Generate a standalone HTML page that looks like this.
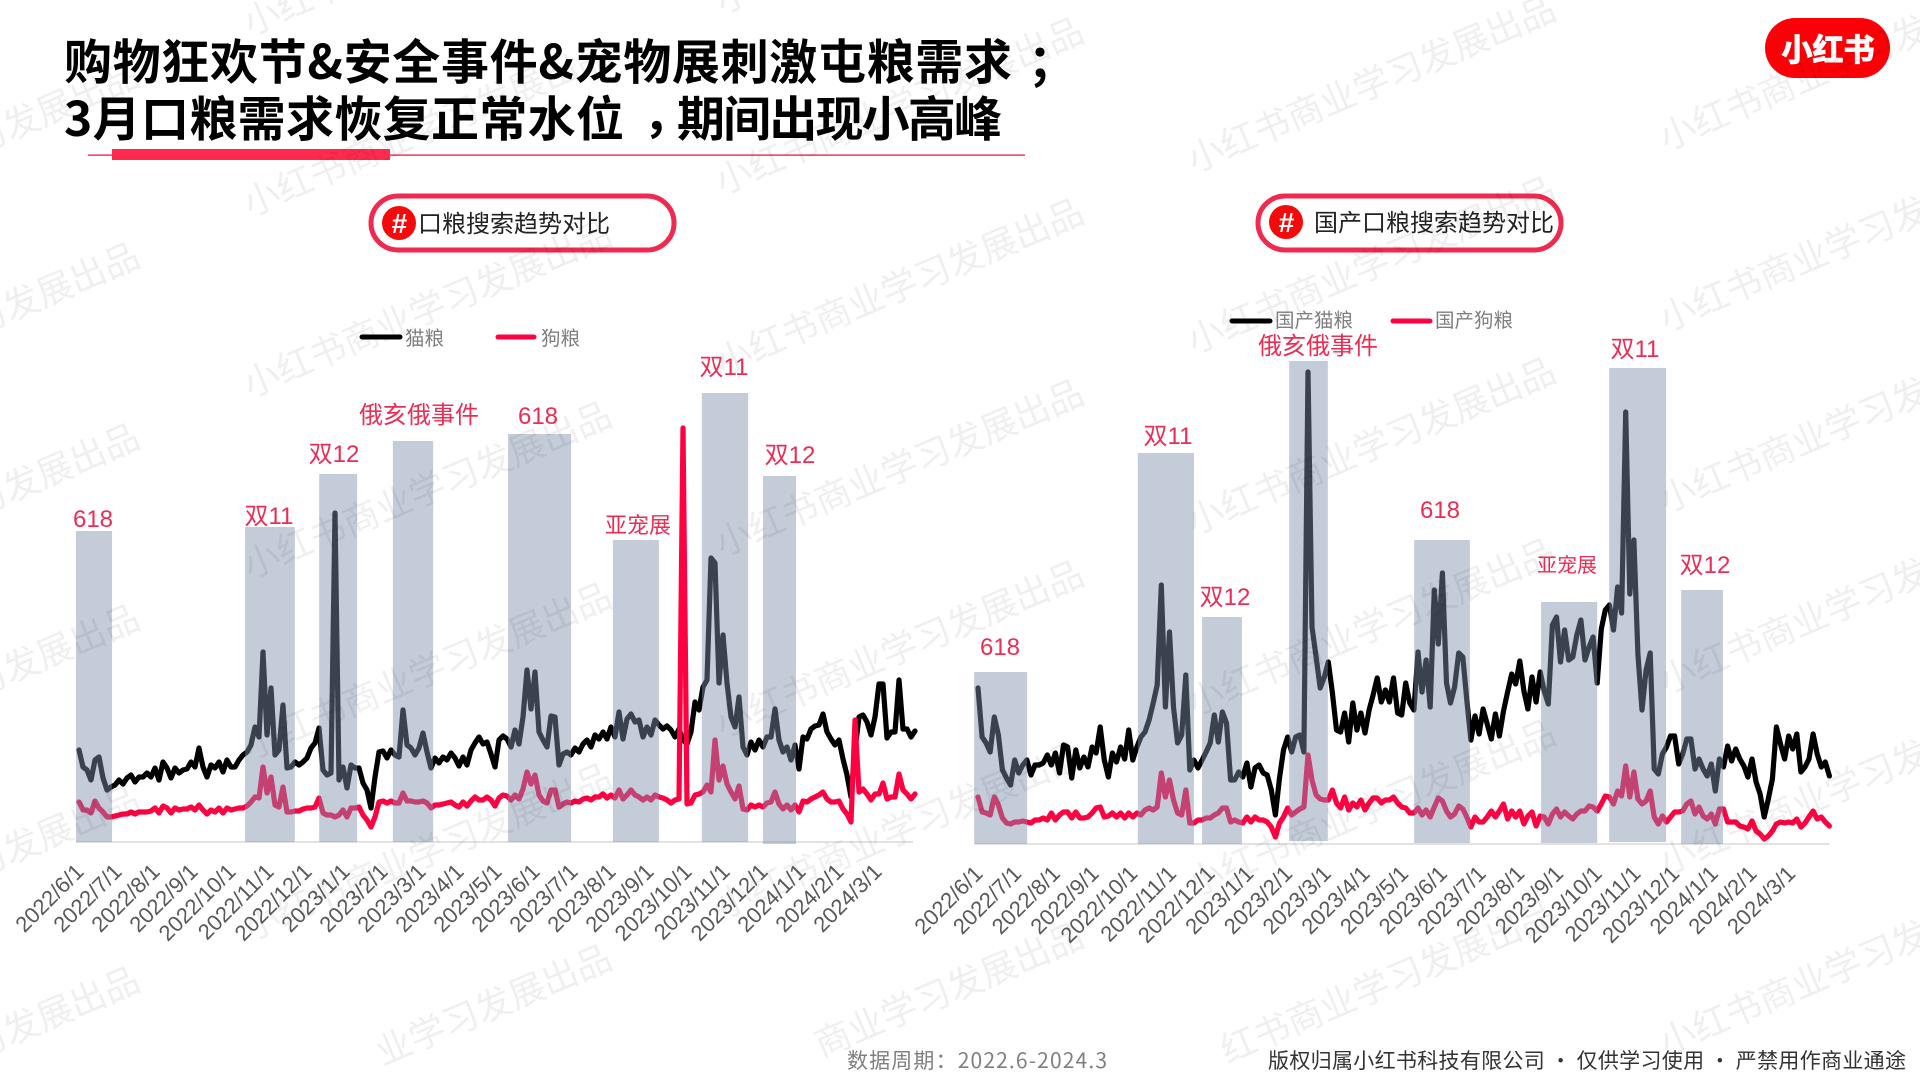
<!DOCTYPE html>
<html lang="zh-CN">
<head>
<meta charset="utf-8">
<title>口粮搜索趋势对比</title>
<style>
html,body{margin:0;padding:0;background:#fff;width:1920px;height:1080px;overflow:hidden}
svg{display:block;position:absolute;left:0;top:0}
text{font-family:"Liberation Sans","Noto Sans CJK SC",sans-serif}
.cjk{font-family:"Noto Sans CJK SC","Liberation Sans",sans-serif}
.event{fill:#ea2d55;font-size:24px;text-anchor:middle}
.legend{fill:#7f7f7f;font-size:19.5px}
.tick{fill:#595959;font-size:22px;text-anchor:end}
.wm{fill:#000;fill-opacity:.062;font-size:36px}
</style>
</head>
<body>
<svg id="stage" xmlns="http://www.w3.org/2000/svg" width="1920" height="1080" viewBox="0 0 1920 1080">
  <rect width="1920" height="1080" fill="#fff"/>

  <g>
    <text class="cjk" x="64" y="79" font-size="48" font-weight="700" fill="#000" textLength="948" lengthAdjust="spacing">购物狂欢节&amp;安全事件&amp;宠物展刺激屯粮需求</text>
    <text class="cjk" x="1028" y="79" font-size="48" font-weight="700" fill="#000">；</text>
    <text class="cjk" x="64" y="136" font-size="48" font-weight="700" fill="#000" textLength="560" lengthAdjust="spacing">3月口粮需求恢复正常水位</text>
    <text class="cjk" x="643" y="132" font-size="48" font-weight="700" fill="#000">，</text>
    <text class="cjk" x="677" y="136" font-size="48" font-weight="700" fill="#000" textLength="325" lengthAdjust="spacing">期间出现小高峰</text>
  </g>
  <rect x="88" y="154.4" width="937" height="1.4" fill="#f0294f"/>
  <rect x="112" y="149" width="278" height="11" fill="#ff2a4d"/>

  <g>
    <rect x="1765" y="18" width="125" height="60" rx="30" fill="#fb0007"/>
    <text class="cjk" x="1828" y="61" text-anchor="middle" font-size="31" font-weight="700" fill="#fff" stroke="#fff" stroke-width="1">小红书</text>
  </g>

  <g>
    <rect x="371" y="196" width="303" height="54" rx="27" fill="#fff" stroke="#f0294f" stroke-width="5"/>
    <circle cx="399" cy="223" r="17" fill="#f40a0a"/>
    <text x="399" y="233" text-anchor="middle" font-size="28" font-weight="700" font-style="italic" fill="#fff">#</text>
    <text class="cjk" x="418" y="232" font-size="24" fill="#222">口粮搜索趋势对比</text>
  </g>
  <g>
    <rect x="1258" y="196" width="303" height="54" rx="27" fill="#fff" stroke="#f0294f" stroke-width="5"/>
    <circle cx="1286" cy="222" r="17" fill="#f40a0a"/>
    <text x="1286" y="232" text-anchor="middle" font-size="28" font-weight="700" font-style="italic" fill="#fff">#</text>
    <text class="cjk" x="1314" y="231" font-size="24" fill="#222">国产口粮搜索趋势对比</text>
  </g>

  <g>
    <line x1="362" y1="337" x2="400" y2="337" stroke="#000" stroke-width="5" stroke-linecap="round"/>
    <text class="legend cjk" x="405" y="345">猫粮</text>
    <line x1="498" y1="337" x2="534" y2="337" stroke="#ff0040" stroke-width="5" stroke-linecap="round"/>
    <text class="legend cjk" x="541" y="345">狗粮</text>
  </g>
  <g>
    <line x1="1232" y1="321" x2="1270" y2="321" stroke="#000" stroke-width="5" stroke-linecap="round"/>
    <text class="legend cjk" x="1275" y="327">国产猫粮</text>
    <line x1="1393" y1="321" x2="1430" y2="321" stroke="#ff0040" stroke-width="5" stroke-linecap="round"/>
    <text class="legend cjk" x="1435" y="327">国产狗粮</text>
  </g>

  <g id="left-chart"></g>
  <g id="right-chart"></g>

  <g>
    <text class="event" x="93" y="527">618</text>
    <text class="event" x="269" y="524">双11</text>
    <text class="event" x="334" y="462">双12</text>
    <text class="event" x="419" y="423">俄亥俄事件</text>
    <text class="event" x="538" y="424">618</text>
    <text class="event" x="638" y="533" style="font-size:22px">亚宠展</text>
    <text class="event" x="724" y="375">双11</text>
    <text class="event" x="790" y="463">双12</text>
  </g>
  <g>
    <text class="event" x="1000" y="655">618</text>
    <text class="event" x="1168" y="444">双11</text>
    <text class="event" x="1225" y="605">双12</text>
    <text class="event" x="1318" y="354">俄亥俄事件</text>
    <text class="event" x="1440" y="518">618</text>
    <text class="event" x="1567" y="572" style="font-size:20px">亚宠展</text>
    <text class="event" x="1635" y="357">双11</text>
    <text class="event" x="1705" y="573">双12</text>
  </g>

  <text class="cjk" x="847" y="1068" font-size="21" fill="#7f7f7f" textLength="260" lengthAdjust="spacing">数据周期：2022.6-2024.3</text>
  <text class="cjk" x="1268" y="1068" font-size="21" fill="#333" textLength="638" lengthAdjust="spacing">版权归属小红书科技有限公司 · 仅供学习使用 · 严禁用作商业通途</text>

  <g id="watermarks"></g>
</svg>
<script>
// Shared category labels
const monthLabels = ['2022/6/1','2022/7/1','2022/8/1','2022/9/1','2022/10/1','2022/11/1','2022/12/1','2023/1/1','2023/2/1','2023/3/1','2023/4/1','2023/5/1','2023/6/1','2023/7/1','2023/8/1','2023/9/1','2023/10/1','2023/11/1','2023/12/1','2024/1/1','2024/2/1','2024/3/1'];
const totalMonths = 22;

// Left chart: search index, 猫粮
const catFood = [
92,75,72,62,82,85,64,52,55,57,
62,58,64,67,60,65,65,69,65,74,
62,80,74,64,74,69,72,73,80,75,
94,75,65,77,74,80,70,82,75,75,
82,87,90,97,115,105,190,107,154,87,
92,137,74,75,80,77,80,84,94,99,
114,72,67,69,329,62,75,54,77,74,
74,59,52,34,65,90,91,84,92,87,
85,132,97,94,87,94,109,90,74,84,
79,85,82,89,84,76,85,77,92,99,
105,98,100,88,75,102,106,103,95,112,
98,125,172,133,170,110,102,95,126,125,
77,88,90,87,94,90,98,102,95,107,
103,110,103,115,105,130,103,123,128,120,
122,105,115,107,122,117,113,116,112,105,
113,102,98,110,140,132,155,162,284,279,
159,207,159,125,115,145,95,87,100,92,
102,95,105,105,133,102,90,95,82,97,
73,105,103,113,116,117,128,110,103,97,
102,83,67,45,92,125,127,120,107,125,
158,158,104,110,110,162,113,113,105,111];

// Left chart: search index, 狗粮
const dogFood = [
40,32,32,29,41,34,30,25,25,26,
27,28,28,30,28,30,30,30,31,34,
29,36,34,29,34,32,33,33,35,32,
37,32,28,32,30,34,29,34,32,33,
34,34,36,40,45,44,75,49,65,37,
35,55,30,30,31,31,33,34,34,35,
44,29,27,27,25,27,32,25,34,34,
35,27,22,15,25,40,41,39,41,39,
39,49,41,41,40,40,41,39,34,37,
37,38,39,40,37,35,40,36,41,45,
42,42,45,42,36,44,47,46,42,47,
43,53,70,58,67,47,41,39,52,52,
35,38,40,39,41,40,43,44,42,45,
45,48,44,47,44,52,43,47,52,47,
45,42,45,42,47,45,44,42,39,42,
43,414,38,39,47,48,50,57,50,102,
62,76,58,50,43,56,33,32,37,35,
37,35,39,40,50,38,33,37,32,37,
30,41,40,43,45,47,50,43,40,40,
41,33,28,20,122,50,53,48,42,48,
48,59,43,45,45,68,52,48,43,48];

// Right chart: search index, 国产猫粮
const domesticCatFood = [
156,107,101,92,127,109,74,66,59,84,
71,79,84,69,79,79,81,89,79,91,
71,99,97,66,94,76,87,77,97,91,
117,84,67,91,82,97,85,114,84,97,
107,112,124,141,159,259,137,212,137,101,
109,169,74,84,76,84,92,101,129,102,
132,121,64,64,72,67,81,57,76,79,
71,69,54,29,66,94,107,92,107,109,
92,472,217,187,156,167,182,151,114,112,
131,102,141,114,131,111,134,149,166,142,
154,142,166,131,129,161,141,134,192,152,
184,137,254,200,271,161,141,157,191,187,
144,104,128,110,135,120,105,130,108,133,
152,170,160,183,153,135,167,142,172,153,
140,219,227,182,214,184,187,209,224,184,
197,207,161,215,234,239,214,257,231,432,
250,304,190,134,174,191,75,70,90,97,
108,108,80,90,105,105,75,85,75,68,
80,53,85,77,98,83,95,85,78,67,
85,62,50,27,45,65,117,100,85,108,
95,110,72,77,85,110,90,77,82,68];

// Right chart: search index, 国产狗粮
const domesticDogFood = [
47,32,31,29,47,39,26,21,20,22,
22,23,22,21,24,24,26,24,31,24,
29,32,32,26,32,26,26,27,31,36,
37,27,28,31,27,31,26,31,27,31,
29,34,36,34,37,71,47,64,44,31,
29,54,21,21,24,24,26,26,29,31,
36,36,22,24,22,21,27,22,27,24,
24,22,17,7,21,27,36,29,32,35,
37,89,64,49,45,44,44,54,41,36,
47,34,41,37,44,34,41,46,46,41,
44,44,47,41,37,36,31,31,36,29,
34,27,37,46,43,33,27,30,38,35,
27,17,27,22,22,27,33,27,33,40,
25,33,27,33,20,28,32,18,28,27,
20,30,35,27,32,28,25,30,33,33,
38,37,33,40,48,47,40,53,48,78,
47,72,45,40,43,53,27,20,28,22,
27,32,32,33,40,43,30,37,28,25,
30,20,35,35,22,22,22,18,17,15,
23,13,10,5,8,13,20,22,21,22,
21,25,17,21,27,33,25,27,22,18];

// Event band extents, in months since 2022/6 and index value
const leftBandStart = [-0.08,4.37,6.32,8.26,11.29,14.05,16.39,18];
const leftBandEnd = [0.87,5.68,7.32,9.32,12.95,15.26,17.61,18.87];
const leftBandTop = [311,315,368,401,408,302,449,366];
const leftBandFloor = [0,0,0,0,0,0,0,-2];
const rightBandStart = [-0.1,4.13,5.79,8.04,11.27,14.55,16.31,18.17];
const rightBandEnd = [1.27,5.58,6.82,9.04,12.71,16,17.78,19.25];
const rightBandTop = [172,391,227,483,304,242,476,254];
const rightBandFloor = [0,0,0,3,1,1,2,0];

const SVG_NS = 'http://www.w3.org/2000/svg';

function makeAxes(xStart, monthWidth, baseline) {
  return {
    x: function (month) { return xStart + month * monthWidth; },
    y: function (value) { return baseline - value; },
    sampleX: function (index, count) { return xStart + (index / (count - 1)) * totalMonths * monthWidth; }
  };
}

function linePath(values, axes) {
  return values.map(function (v, i) {
    return (i ? 'L' : 'M') + axes.sampleX(i, values.length).toFixed(1) + ' ' + axes.y(v).toFixed(1);
  }).join('');
}

function renderChart(rootId, axes, axisEnd, cat, dog, bandStart, bandEnd, bandTop, bandFloor) {
  const root = document.getElementById(rootId);

  const axisLine = document.createElementNS(SVG_NS, 'line');
  axisLine.setAttribute('x1', axes.x(-0.08));
  axisLine.setAttribute('x2', axisEnd);
  axisLine.setAttribute('y1', axes.y(0));
  axisLine.setAttribute('y2', axes.y(0));
  axisLine.setAttribute('stroke', '#d9d9d9');
  axisLine.setAttribute('stroke-width', '1.5');
  
  
  root.appendChild(axisLine);

  const catLine = document.createElementNS(SVG_NS, 'path');
  catLine.setAttribute('d', linePath(cat, axes));
  catLine.setAttribute('fill', 'none');
  catLine.setAttribute('stroke', '#000');
  catLine.setAttribute('stroke-width', '5.2');
  catLine.setAttribute('stroke-linejoin', 'round');
  catLine.setAttribute('stroke-linecap', 'round');
  
  
  root.appendChild(catLine);

  const dogLine = document.createElementNS(SVG_NS, 'path');
  dogLine.setAttribute('d', linePath(dog, axes));
  dogLine.setAttribute('fill', 'none');
  dogLine.setAttribute('stroke', '#ff0040');
  dogLine.setAttribute('stroke-width', '5.2');
  dogLine.setAttribute('stroke-linejoin', 'round');
  dogLine.setAttribute('stroke-linecap', 'round');
  
  
  root.appendChild(dogLine);

  bandStart.forEach(function (start, i) {
    const band = document.createElementNS(SVG_NS, 'rect');
    band.setAttribute('x', axes.x(start));
    band.setAttribute('width', axes.x(bandEnd[i]) - axes.x(start));
    band.setAttribute('y', axes.y(bandTop[i]));
    band.setAttribute('height', axes.y(bandFloor[i]) - axes.y(bandTop[i]));
    band.setAttribute('fill', 'rgb(126,143,174)');
    band.setAttribute('fill-opacity', '0.46');
    
    
    root.appendChild(band);
  });

  monthLabels.forEach(function (label, k) {
    const tick = document.createElementNS(SVG_NS, 'text');
    const tx = axes.x(k) + 6;
    const ty = axes.y(0) + 31;
    tick.setAttribute('class', 'tick');
    tick.setAttribute('transform', 'translate(' + tx + ' ' + ty + ') rotate(-45)');
    
    
    tick.textContent = label;
    root.appendChild(tick);
  });
}

renderChart('left-chart', makeAxes(79, 38, 842), 913, catFood, dogFood, leftBandStart, leftBandEnd, leftBandTop, leftBandFloor);
renderChart('right-chart', makeAxes(978, 38.7, 844), 1829, domesticCatFood, domesticDogFood, rightBandStart, rightBandEnd, rightBandTop, rightBandFloor);

// Repeating diagonal watermark; characters that would fall past the bottom edge are left out
const wmLayer = document.getElementById('watermarks');
const wmChars = Array.from('小红书商业学习发展出品');
const wmAngle = 23 * Math.PI / 180;
const wmCos = Math.cos(wmAngle);
const wmSin = Math.sin(wmAngle);
function wmCharFits(py) {
  return py + 11 * wmCos <= 1080;
}
for (let col = 0; col < 5; col++) {
  for (let row = -2; row < 7; row++) {
    const wx = -222 + 472 * col;
    const wy = 239 - 22 * col + 181 * row;
    let first = -1;
    wmChars.forEach(function (ch, j) {
      if (first < 0 && wmCharFits(wy - j * 36 * wmSin)) {
        first = j;
      }
    });
    if (first < 0) continue;
    const wm = document.createElementNS(SVG_NS, 'text');
    const sx = wx + first * 36 * wmCos;
    const sy = wy - first * 36 * wmSin;
    wm.setAttribute('class', 'wm cjk');
    wm.setAttribute('transform', 'translate(' + sx + ' ' + sy + ') rotate(-23)');
    
    
    wm.textContent = wmChars.slice(first).join('');
    wmLayer.appendChild(wm);
  }
}
</script>
</body>
</html>
